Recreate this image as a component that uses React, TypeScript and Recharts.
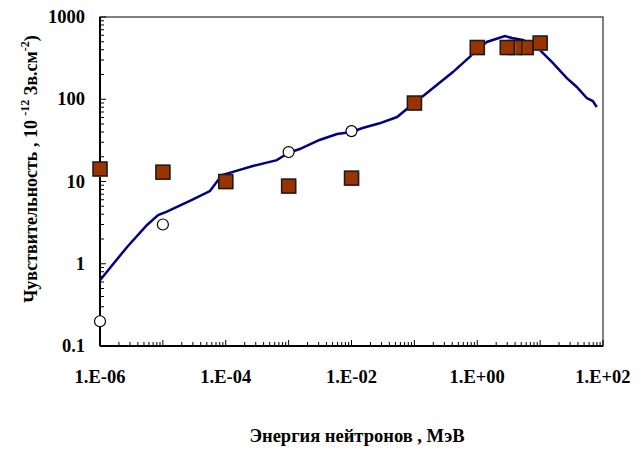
import { ComposedChart, Line, Scatter, XAxis, YAxis, ReferenceArea, ReferenceLine, Label } from "recharts";

// calculated response curve
const curveEnergy = [
  1.0e-6, 1.44e-6, 2.7e-6, 5.6e-6, 8.4e-6, 1.16e-5, 2.9e-5, 5.6e-5, 8.7e-5, 1.3e-4,
  2.7e-4, 6.5e-4, 9.8e-4, 1.5e-3, 3.1e-3, 5.9e-3, 1.0e-2, 1.5e-2, 2.8e-2, 5.3e-2,
  7.6e-2, 0.1, 0.158, 0.41, 0.76, 0.99, 1.42, 2.75, 3.55, 5.3, 8.9, 15.9, 26.6, 38.3,
  55.2, 68.8, 79.6,
];
const curveValue = [
  0.63, 0.89, 1.6, 2.96, 3.9, 4.3, 5.96, 7.65, 12, 13.1,
  15.4, 18.2, 22.2, 24.8, 32, 37.8, 40, 44.7, 51, 60.8,
  76, 90, 119, 214, 327, 397, 497, 587, 556, 525, 431, 276, 181, 141,
  103.5, 95, 80.5,
];

// measured points (squares)
const squareEnergy = [1e-6, 1e-5, 1e-4, 1e-3, 1e-2, 0.1, 1, 6, 4, 3, 10];
const squareValue = [14.2, 13, 10, 8.8, 11, 90, 426, 426, 426, 426, 483];

// other points (open circles)
const circleEnergy = [1e-6, 1e-5, 1e-3, 1e-2];
const circleValue = [0.2, 3, 22.8, 41];

const xLabelTicks = [1e-6, 1e-4, 1e-2, 1, 100];
const xTickLabels = ["1.E-06", "1.E-04", "1.E-02", "1.E+00", "1.E+02"];
const yLabelTicks = [0.1, 1, 10, 100, 1000];
const yTickLabels = ["0.1", "1", "10", "100", "1000"];

const FONT = "'Liberation Serif', 'Times New Roman', serif";

const zip = (xs: number[], ys: number[]) => xs.map((x, i) => ({ x, y: ys[i] }));
const curveData = zip(curveEnergy, curveValue);
const squareData = zip(squareEnergy, squareValue);
const circleData = zip(circleEnergy, circleValue);

// decade + minor (2..9) ticks between two exponents
const logTicks = (from: number, to: number) => {
  const out: number[] = [];
  for (let e = from; e < to; e++) {
    for (let m = 1; m < 10; m++) out.push(m * Math.pow(10, e));
  }
  out.push(Math.pow(10, to));
  return out;
};
const xTicks = logTicks(-6, 2);
const yTicks = logTicks(-1, 3);

const isDecade = (v: number) => {
  const l = Math.log10(v);
  return Math.abs(l - Math.round(l)) < 1e-6;
};
const labelIndex = (list: number[], v: number) =>
  list.findIndex((t) => Math.abs(Math.log10(t) - Math.log10(v)) < 1e-6);

// y ticks that sit under a marker drawn on the left axis (axes render above series)
const coveredOnYAxis = (v: number) =>
  [...circleData, ...squareData].some(
    (p) => p.x === 1e-6 && Math.abs(Math.log10(p.y) - Math.log10(v)) < 0.05
  );

const XTick = (props: any) => {
  const { x, y, payload } = props;
  const v = payload.value;
  const idx = labelIndex(xLabelTicks, v);
  const len = isDecade(v) ? 6 : 4;
  return (
    <g>
      <line x1={x} x2={x} y1={y} y2={y - len} stroke="#000" strokeWidth={1} />
      {idx >= 0 && (
        <text x={x} y={y + 37} textAnchor="middle" fontFamily={FONT} fontWeight="bold" fontSize={18.5} fill="#000">
          {xTickLabels[idx]}
        </text>
      )}
    </g>
  );
};

const YTick = (props: any) => {
  const { x, y, payload } = props;
  const v = payload.value;
  const idx = labelIndex(yLabelTicks, v);
  const len = isDecade(v) ? 6 : 4;
  return (
    <g>
      {!coveredOnYAxis(v) && <line x1={x} x2={x + len} y1={y} y2={y} stroke="#000" strokeWidth={1} />}
      {idx >= 0 && (
        <text x={x - 15} y={y + 6} textAnchor="end" fontFamily={FONT} fontWeight="bold" fontSize={18.5} fill="#000">
          {yTickLabels[idx]}
        </text>
      )}
    </g>
  );
};

const YTitle = (props: any) => {
  const vb = props.viewBox;
  const x = vb.x + 37;
  const y = vb.y + 152;
  return (
    <text
      x={x}
      y={y}
      transform={`rotate(-90, ${x}, ${y})`}
      textAnchor="middle"
      fontFamily={FONT}
      fontWeight="bold"
      fontSize={18}
      fill="#000"
    >
      <tspan>Чувствительность , 10 </tspan>
      <tspan fontSize={12} dy={-8}>-12</tspan>
      <tspan dy={8}> Зв.см</tspan>
      <tspan fontSize={12} dy={-8}>-2</tspan>
      <tspan dy={8}>)</tspan>
    </text>
  );
};

const XTitle = (props: any) => {
  const vb = props.viewBox;
  return (
    <text
      x={vb.x + 257}
      y={vb.y + 96}
      textAnchor="middle"
      fontFamily={FONT}
      fontWeight="bold"
      fontSize={18.5}
      fill="#000"
    >
      Энергия нейтронов , МэВ
    </text>
  );
};

const SquareMark = (props: any) => {
  const { cx, cy } = props;
  return (
    <g>
      <rect x={cx - 6} y={cy - 6} width={14} height={14} fill="#b8b8b8" />
      <rect x={cx - 7} y={cy - 7} width={14} height={14} fill="#993300" stroke="#1a1a1a" strokeWidth={1.5} />
    </g>
  );
};

const CircleMark = (props: any) => {
  const { cx, cy } = props;
  return <circle cx={cx} cy={cy} r={5.5} fill="#fff" stroke="#000" strokeWidth={1.2} />;
};

export default function App() {
  return (
    <div style={{ position: "absolute", left: 0, top: 0, background: "#fff" }}>
      <ComposedChart width={641} height={450} margin={{ top: 17, right: 38, bottom: 0, left: 0 }}>
        <XAxis
          dataKey="x"
          type="number"
          scale="log"
          domain={[1e-6, 100]}
          ticks={xTicks}
          interval={0}
          tick={<XTick />}
          tickLine={false}
          tickSize={0}
          tickMargin={0}
          height={104}
          axisLine={false}
        >
          <Label content={XTitle} />
        </XAxis>
        <YAxis
          dataKey="y"
          type="number"
          scale="log"
          domain={[0.1, 1000]}
          ticks={yTicks}
          interval={0}
          tick={<YTick />}
          tickLine={false}
          tickSize={0}
          tickMargin={0}
          width={100}
          axisLine={false}
        >
          <Label content={YTitle} />
        </YAxis>
        <ReferenceArea x1={1e-6} x2={100} y1={0.1} y2={1000} fill="none" stroke="#555" strokeWidth={1.5} />
        {/* axis lines drawn here so the markers sit on top of them */}
        <ReferenceLine x={1e-6} stroke="#000" strokeWidth={2} />
        <ReferenceLine y={0.1} stroke="#000" strokeWidth={2} />
        <Line
          data={curveData}
          dataKey="y"
          type="linear"
          stroke="#000080"
          strokeWidth={2.5}
          dot={false}
          isAnimationActive={false}
        />
        <Scatter data={circleData} dataKey="y" shape={CircleMark} isAnimationActive={false} />
        <Scatter data={squareData} dataKey="y" shape={SquareMark} isAnimationActive={false} />
      </ComposedChart>
    </div>
  );
}
